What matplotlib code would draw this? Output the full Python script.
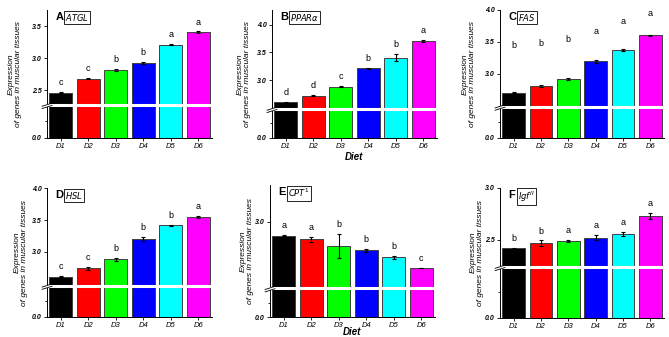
import numpy as np
import matplotlib
matplotlib.use("Agg")
import matplotlib.pyplot as plt
from matplotlib.scale import FuncScale

plt.rcParams['font.family'] = ['Liberation Sans', 'DejaVu Sans']

diets = ['D1', 'D2', 'D3', 'D4', 'D5', 'D6']
bar_colors = ['#000000', '#ff0000', '#00ff00', '#0000ff', '#00ffff', '#ff00ff']

panel_letters = ['A', 'B', 'C', 'D', 'E', 'F']
gene_names = [r'$\it{ATGL}$', r'$\it{PPAR\alpha}$', r'$\it{FAS}$', r'$\it{HSL}$',
              r'$\it{CPT}^{1}$', r'$\it{Igf}^{II}$']

atgl = [2.46, 2.68, 2.81, 2.92, 3.21, 3.40]
atgl_err = [0.01, 0.01, 0.015, 0.015, 0.005, 0.015]
atgl_sig = ['c', 'c', 'b', 'b', 'a', 'a']

ppara = [2.61, 2.73, 2.89, 3.22, 3.41, 3.70]
ppara_err = [0.01, 0.01, 0.01, 0.01, 0.07, 0.02]
ppara_sig = ['d', 'd', 'c', 'b', 'b', 'a']

fas = [2.70, 2.80, 2.91, 3.19, 3.37, 3.60]
fas_err = [0.01, 0.015, 0.015, 0.03, 0.01, 0.01]
fas_sig = ['b', 'b', 'b', 'a', 'a', 'a']
fas_sig_y = [3.44, 3.48, 3.53, 3.66, 3.82, 3.94]

hsl = [2.61, 2.745, 2.886, 3.21, 3.42, 3.55]
hsl_err = [0.01, 0.02, 0.02, 0.03, 0.01, 0.02]
hsl_sig = ['c', 'c', 'b', 'b', 'b', 'a']

cpt1 = [2.78, 2.72, 2.62, 2.55, 2.44, 2.28]
cpt1_err = [0.01, 0.04, 0.19, 0.02, 0.03, 0.0]
cpt1_sig = ['a', 'a', 'b', 'b', 'b', 'c']

igf = [2.42, 2.47, 2.49, 2.52, 2.56, 2.73]
igf_err = [0.005, 0.025, 0.01, 0.025, 0.02, 0.03]
igf_sig = ['b', 'b', 'a', 'a', 'a', 'a']

values = [atgl, ppara, fas, hsl, cpt1, igf]
errors = [atgl_err, ppara_err, fas_err, hsl_err, cpt1_err, igf_err]
sigs = [atgl_sig, ppara_sig, fas_sig, hsl_sig, cpt1_sig, igf_sig]
sig_ys = [None, None, fas_sig_y, None, None, None]

# layout: (left, right, top, bottom) in pixels, upper range, break fraction, ticks,
# ylabel centre x (px), "Diet" label y (px) or None
W, H = 669, 337
layout = [
    dict(rect=(47, 212, 10, 138), up=(2.27, 3.75), f=0.258, ticks=[2.5, 3.0, 3.5], lab=15, diet=None),
    dict(rect=(272, 437, 10, 138), up=(2.49, 4.26), f=0.227, ticks=[3.0, 3.5, 4.0], lab=244, diet=157),
    dict(rect=(500, 664, 10, 138), up=(2.48, 4.0), f=0.245, ticks=[3.0, 3.5, 4.0], lab=469, diet=None),
    dict(rect=(47, 212, 188.3, 316.7), up=(2.47, 4.0), f=0.241, ticks=[3.0, 3.5, 4.0], lab=21, diet=None),
    dict(rect=(270, 435, 185, 317.3), up=(1.96, 3.57), f=0.22, ticks=[3.0], lab=247, diet=332),
    dict(rect=(500, 664, 187.7, 317.7), up=(2.24, 3.0), f=0.39, ticks=[2.5, 3.0], lab=477, diet=None),
]

LOW = 1.0

def make_scale(u0, u1, f):
    def fwd(v):
        v = np.asarray(v, dtype=float)
        lo = v / LOW * f
        hi = f + (v - u0) / (u1 - u0) * (1 - f)
        return np.where(v <= LOW, lo, np.where(v >= u0, hi, f))
    def inv(y):
        y = np.asarray(y, dtype=float)
        lo = y / f * LOW
        hi = u0 + (y - f) / (1 - f) * (u1 - u0)
        return np.where(y <= f, lo, hi)
    return fwd, inv

fig = plt.figure(figsize=(W / 100, H / 100), dpi=100)

x = np.arange(len(diets))
for i in range(6):
    L = layout[i]
    l, r, t, b = L['rect']
    ax = fig.add_axes([l / W, 1 - b / H, (r - l) / W, (b - t) / H])
    u0, u1 = L['up']
    fwd, inv = make_scale(u0, u1, L['f'])
    ax.set_yscale(FuncScale(ax, (fwd, inv)))
    ax.set_ylim(0, u1)
    ax.set_xlim(-0.5, 5.5)
    ax.bar(x, values[i], width=0.84, color=bar_colors, edgecolor='#404040', linewidth=0.7, zorder=2)
    ax.errorbar(x, values[i], yerr=errors[i], fmt='none', ecolor='black', elinewidth=0.8,
                capsize=1.5, capthick=0.8, zorder=3)
    for j in range(6):
        if sig_ys[i] is not None:
            ax.text(x[j], sig_ys[i][j], sigs[i][j], ha='center', va='center', fontsize=6.5)
        else:
            ax.annotate(sigs[i][j], (x[j], values[i][j] + errors[i][j]), xytext=(0, 3.5),
                        textcoords='offset points', ha='center', va='bottom', fontsize=6.5)
    # axis break
    ax.axhline(u0, color='white', lw=2.2, zorder=4)
    ax.plot([-0.03, 0.03], [L['f'] - 0.010, L['f'] + 0.014], transform=ax.transAxes,
            color='black', lw=0.6, clip_on=False, zorder=5)
    ax.plot([-0.03, 0.03], [L['f'] - 0.028, L['f'] - 0.004], transform=ax.transAxes,
            color='black', lw=0.6, clip_on=False, zorder=5)
    # ticks
    ax.set_yticks([0.0] + L['ticks'])
    ax.set_yticklabels(['%.1f' % v for v in [0.0] + L['ticks']], fontsize=5, style='italic',
                       fontweight='bold')
    ax.set_yticks([0.5], minor=True)
    ax.set_xticks(x)
    ax.set_xticklabels(diets, fontsize=5.5, style='italic')
    ax.tick_params(axis='both', which='major', direction='out', length=2.5, width=0.6, pad=1.2)
    ax.tick_params(axis='y', which='minor', direction='out', length=1.5, width=0.6)
    for s in ['top', 'right']:
        ax.spines[s].set_visible(False)
    for s in ['left', 'bottom']:
        ax.spines[s].set_linewidth(0.7)
    fig.text(L['lab'] / W, 1 - (t + b) / 2 / H, 'Expression\nof genes in muscular tissues',
             rotation=90, ha='center', va='center', fontsize=6, style='italic',
             multialignment='center', linespacing=1.05)
    ax.text(0.05, 0.985, panel_letters[i], transform=ax.transAxes, ha='left', va='top',
            fontsize=8, fontweight='bold')
    ax.text(0.11, 0.985, gene_names[i], transform=ax.transAxes, ha='left', va='top', fontsize=6,
            bbox=dict(boxstyle='square,pad=0.15', fc='white', ec='black', lw=0.6))
    if L['diet'] is not None:
        fig.text((l + r) / 2 / W, 1 - L['diet'] / H, 'Diet', ha='center', va='center',
                 fontsize=7, style='italic', fontweight='bold')

fig.savefig('out.png', dpi=100)
